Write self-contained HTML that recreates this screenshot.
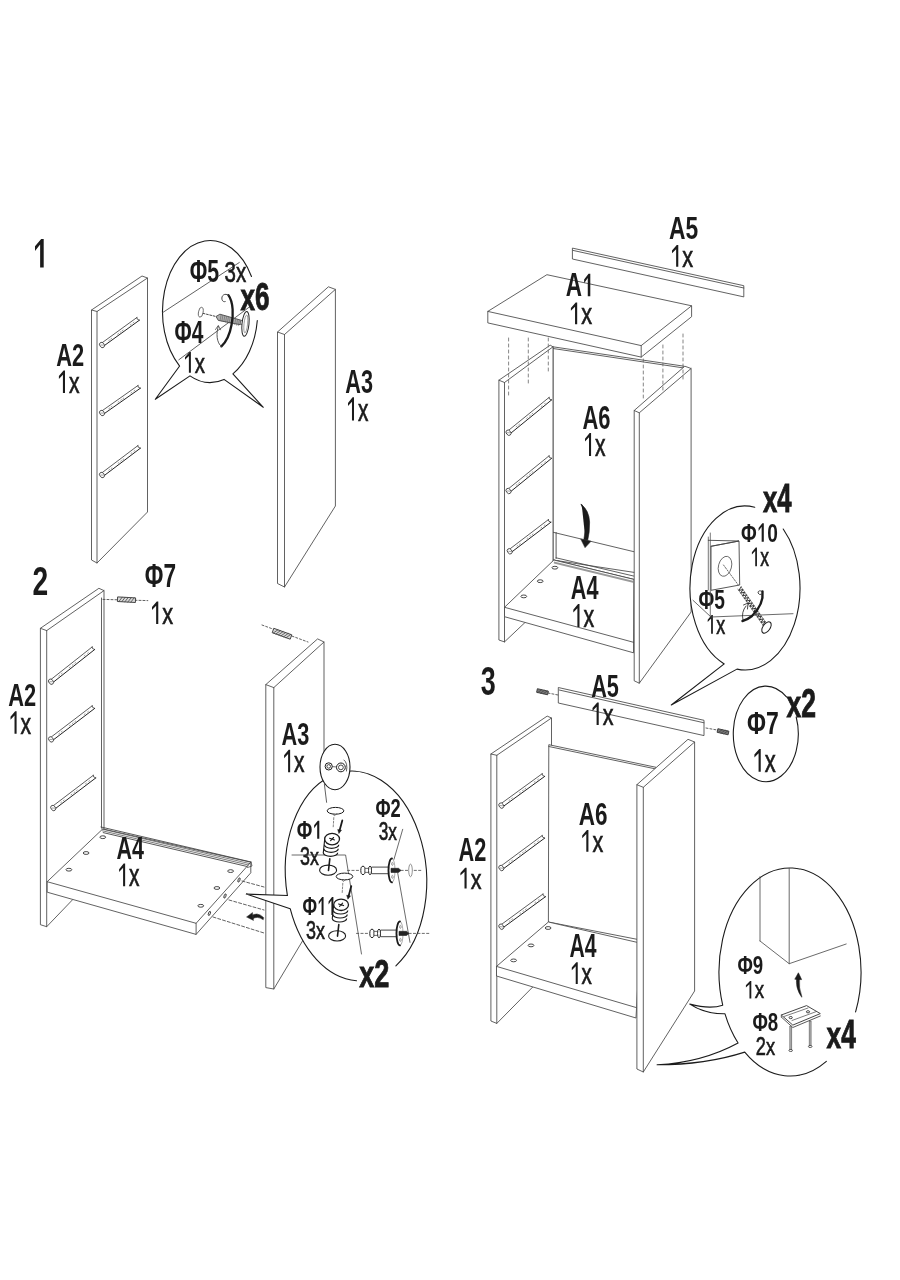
<!DOCTYPE html>
<html><head><meta charset="utf-8"><style>html,body{margin:0;padding:0;background:#fff;width:900px;height:1280px;overflow:hidden}svg{display:block} .t{opacity:0.995}text{font-family:"Liberation Sans",sans-serif}</style></head>
<body><svg width="900" height="1280" viewBox="0 0 900 1280">
<rect width="900" height="1280" fill="#fff"/>
<g class="t"><path d="M35.00,246.22 L41.20,239.10 L43.70,239.10 L43.70,267.60 L40.13,267.60 L40.13,244.51 L35.00,250.93 Z" fill="#1a1a1a"/>
<polygon points="91.5,310.0 142.0,276.0 147.5,278.0 147.5,512.0 97.0,563.0 91.5,560.0" fill="#fff" stroke="#454545" stroke-width="0.85" stroke-linejoin="round"/>
<polyline points="97.0,563.0 97.0,311.5 147.5,278.0" fill="none" stroke="#454545" stroke-width="0.85" stroke-linejoin="round" stroke-linecap="round"/>
<polyline points="91.5,310.0 97.0,311.5" fill="none" stroke="#454545" stroke-width="0.85" stroke-linejoin="round" stroke-linecap="round"/>
<polygon points="102.2,342.7 136.9,317.5 139.4,320.2 104.3,345.6" fill="#fff" stroke="none" stroke-width="0" stroke-linejoin="round"/>
<polyline points="102.2,342.7 136.9,317.5" fill="none" stroke="#333" stroke-width="0.8" stroke-linejoin="round" stroke-linecap="round"/>
<polyline points="104.3,345.6 139.4,320.2" fill="none" stroke="#222" stroke-width="1.0" stroke-linejoin="round" stroke-linecap="round"/>
<polyline points="136.9,317.5 137.2,319.1 139.4,320.2" fill="none" stroke="#333" stroke-width="0.8" stroke-linejoin="round" stroke-linecap="round"/>
<ellipse cx="102.00" cy="345.00" rx="2.2" ry="2.9" transform="rotate(-35.8 102.00 345.00)" fill="#fff" stroke="#333" stroke-width="0.8"/>
<polyline points="101.0,345.0 103.3,345.2" fill="none" stroke="#666" stroke-width="0.6" stroke-linejoin="round" stroke-linecap="round"/>
<polyline points="108.7,340.6 109.5,340.0" fill="none" stroke="#777" stroke-width="0.7" stroke-linejoin="round" stroke-linecap="round"/>
<polyline points="110.8,339.0 111.6,338.4" fill="none" stroke="#777" stroke-width="0.7" stroke-linejoin="round" stroke-linecap="round"/>
<polyline points="117.7,334.1 118.5,333.5" fill="none" stroke="#777" stroke-width="0.7" stroke-linejoin="round" stroke-linecap="round"/>
<polyline points="120.2,332.2 121.0,331.7" fill="none" stroke="#777" stroke-width="0.7" stroke-linejoin="round" stroke-linecap="round"/>
<polyline points="122.3,330.7 123.1,330.1" fill="none" stroke="#777" stroke-width="0.7" stroke-linejoin="round" stroke-linecap="round"/>
<polyline points="130.3,325.0 131.1,324.4" fill="none" stroke="#777" stroke-width="0.7" stroke-linejoin="round" stroke-linecap="round"/>
<polyline points="133.1,322.9 133.9,322.3" fill="none" stroke="#777" stroke-width="0.7" stroke-linejoin="round" stroke-linecap="round"/>
<polygon points="102.2,410.7 138.0,385.5 140.4,388.2 104.3,413.6" fill="#fff" stroke="none" stroke-width="0" stroke-linejoin="round"/>
<polyline points="102.2,410.7 138.0,385.5" fill="none" stroke="#333" stroke-width="0.8" stroke-linejoin="round" stroke-linecap="round"/>
<polyline points="104.3,413.6 140.4,388.2" fill="none" stroke="#222" stroke-width="1.0" stroke-linejoin="round" stroke-linecap="round"/>
<polyline points="138.0,385.5 138.2,387.1 140.4,388.2" fill="none" stroke="#333" stroke-width="0.8" stroke-linejoin="round" stroke-linecap="round"/>
<ellipse cx="102.00" cy="413.00" rx="2.2" ry="2.9" transform="rotate(-35.1 102.00 413.00)" fill="#fff" stroke="#333" stroke-width="0.8"/>
<polyline points="101.0,413.0 103.3,413.2" fill="none" stroke="#666" stroke-width="0.6" stroke-linejoin="round" stroke-linecap="round"/>
<polyline points="108.8,408.6 109.7,408.0" fill="none" stroke="#777" stroke-width="0.7" stroke-linejoin="round" stroke-linecap="round"/>
<polyline points="111.1,407.0 111.9,406.4" fill="none" stroke="#777" stroke-width="0.7" stroke-linejoin="round" stroke-linecap="round"/>
<polyline points="118.1,402.1 118.9,401.5" fill="none" stroke="#777" stroke-width="0.7" stroke-linejoin="round" stroke-linecap="round"/>
<polyline points="120.7,400.2 121.5,399.7" fill="none" stroke="#777" stroke-width="0.7" stroke-linejoin="round" stroke-linecap="round"/>
<polyline points="122.9,398.7 123.7,398.1" fill="none" stroke="#777" stroke-width="0.7" stroke-linejoin="round" stroke-linecap="round"/>
<polyline points="131.0,393.0 131.9,392.4" fill="none" stroke="#777" stroke-width="0.7" stroke-linejoin="round" stroke-linecap="round"/>
<polyline points="134.0,390.9 134.8,390.3" fill="none" stroke="#777" stroke-width="0.7" stroke-linejoin="round" stroke-linecap="round"/>
<polygon points="102.1,472.7 137.9,445.6 140.4,448.2 104.3,475.5" fill="#fff" stroke="none" stroke-width="0" stroke-linejoin="round"/>
<polyline points="102.1,472.7 137.9,445.6" fill="none" stroke="#333" stroke-width="0.8" stroke-linejoin="round" stroke-linecap="round"/>
<polyline points="104.3,475.5 140.4,448.2" fill="none" stroke="#222" stroke-width="1.0" stroke-linejoin="round" stroke-linecap="round"/>
<polyline points="137.9,445.6 138.2,447.1 140.4,448.2" fill="none" stroke="#333" stroke-width="0.8" stroke-linejoin="round" stroke-linecap="round"/>
<ellipse cx="102.00" cy="475.00" rx="2.2" ry="2.9" transform="rotate(-37.1 102.00 475.00)" fill="#fff" stroke="#333" stroke-width="0.8"/>
<polyline points="101.0,475.0 103.3,475.2" fill="none" stroke="#666" stroke-width="0.6" stroke-linejoin="round" stroke-linecap="round"/>
<polyline points="108.8,470.2 109.6,469.6" fill="none" stroke="#777" stroke-width="0.7" stroke-linejoin="round" stroke-linecap="round"/>
<polyline points="111.1,468.5 111.9,467.9" fill="none" stroke="#777" stroke-width="0.7" stroke-linejoin="round" stroke-linecap="round"/>
<polyline points="118.1,463.2 118.9,462.6" fill="none" stroke="#777" stroke-width="0.7" stroke-linejoin="round" stroke-linecap="round"/>
<polyline points="120.7,461.2 121.5,460.6" fill="none" stroke="#777" stroke-width="0.7" stroke-linejoin="round" stroke-linecap="round"/>
<polyline points="122.9,459.6 123.7,459.0" fill="none" stroke="#777" stroke-width="0.7" stroke-linejoin="round" stroke-linecap="round"/>
<polyline points="131.0,453.4 131.8,452.8" fill="none" stroke="#777" stroke-width="0.7" stroke-linejoin="round" stroke-linecap="round"/>
<polyline points="134.0,451.2 134.8,450.6" fill="none" stroke="#777" stroke-width="0.7" stroke-linejoin="round" stroke-linecap="round"/>
<text transform="translate(56.26,365.50) scale(0.678,1)" font-size="32.22" font-weight="bold" fill="#1a1a1a">A</text>
<text transform="translate(72.03,365.50) scale(0.678,1)" font-size="32.22" font-weight="bold" fill="#1a1a1a">2</text>
<path d="M58.90,376.12 L63.55,370.50 L65.00,370.50 L65.00,393.00 L62.92,393.00 L62.92,374.77 L58.90,378.94 Z" fill="#1a1a1a"/>
<text transform="translate(68.96,393.00) scale(0.646,0.92)" font-size="32.70" font-weight="normal" fill="#1a1a1a" stroke="#1a1a1a" stroke-width="0.70">x</text>
<polygon points="277.5,332.0 328.4,286.8 335.4,289.4 335.4,506.0 284.5,587.0 277.5,583.5" fill="#fff" stroke="#454545" stroke-width="0.85" stroke-linejoin="round"/>
<polyline points="284.5,587.0 284.5,334.5 335.4,289.4" fill="none" stroke="#454545" stroke-width="0.85" stroke-linejoin="round" stroke-linecap="round"/>
<polyline points="277.5,332.0 284.5,334.5" fill="none" stroke="#454545" stroke-width="0.85" stroke-linejoin="round" stroke-linecap="round"/>
<text transform="translate(345.36,392.54) scale(0.669,1)" font-size="32.42" font-weight="bold" fill="#1a1a1a">A</text>
<text transform="translate(361.02,392.54) scale(0.669,1)" font-size="32.42" font-weight="bold" fill="#1a1a1a">3</text>
<path d="M348.00,403.10 L352.58,397.30 L354.01,397.30 L354.01,420.50 L351.97,420.50 L351.97,401.71 L348.00,406.00 Z" fill="#1a1a1a"/>
<text transform="translate(357.91,420.50) scale(0.617,0.92)" font-size="33.72" font-weight="normal" fill="#1a1a1a" stroke="#1a1a1a" stroke-width="0.73">x</text>
<path d="M257.31,320.52 A47.6,71 0 0 1 232.89,373.84 L263.30,407.30 L224.02,379.40 A47.6,71 0 0 1 189.98,375.85 L155.30,399.30 L179.63,366.05 A47.6,71 0 0 1 164.50,291.14 A47.6,71 0 0 1 204.74,240.95 A47.6,71 0 0 1 251.49,276.43" fill="#fff" stroke="#1a1a1a" stroke-width="1.1" stroke-linejoin="round" stroke-linecap="round"/>
<polyline points="162.6,312.6 239.3,262.5" fill="none" stroke="#454545" stroke-width="0.85" stroke-linejoin="round" stroke-linecap="round"/>
<polyline points="178.8,359.8 249.5,306.9" fill="none" stroke="#454545" stroke-width="0.85" stroke-linejoin="round" stroke-linecap="round"/>
<text transform="translate(189.84,281.69) scale(0.681,1)" font-size="31.31" font-weight="bold" fill="#1a1a1a">Φ</text>
<text transform="translate(207.34,281.69) scale(0.681,1)" font-size="31.31" font-weight="bold" fill="#1a1a1a">5</text>
<text transform="translate(224.52,281.70) scale(0.677,1)" font-size="30.37" font-weight="normal" fill="#1a1a1a" stroke="#1a1a1a" stroke-width="0.66">3</text>
<text transform="translate(235.95,281.70) scale(0.677,0.92)" font-size="30.37" font-weight="normal" fill="#1a1a1a" stroke="#1a1a1a" stroke-width="0.66">x</text>
<text transform="translate(240.42,309.61) scale(0.660,0.92)" font-size="39.55" font-weight="bold" fill="#1a1a1a" stroke="#1a1a1a" stroke-width="0.91">x</text>
<text transform="translate(254.93,309.61) scale(0.660,1)" font-size="39.55" font-weight="bold" fill="#1a1a1a" stroke="#1a1a1a" stroke-width="0.91">6</text>
<text transform="translate(174.56,343.20) scale(0.660,1)" font-size="31.75" font-weight="bold" fill="#1a1a1a">Φ</text>
<text transform="translate(191.76,343.20) scale(0.660,1)" font-size="31.75" font-weight="bold" fill="#1a1a1a">4</text>
<path d="M185.00,357.18 L189.49,352.00 L190.89,352.00 L190.89,372.70 L188.89,372.70 L188.89,355.93 L185.00,359.76 Z" fill="#1a1a1a"/>
<text transform="translate(194.72,372.70) scale(0.678,0.92)" font-size="30.09" font-weight="normal" fill="#1a1a1a" stroke="#1a1a1a" stroke-width="0.66">x</text>
<ellipse cx="200.8" cy="312.2" rx="2.3" ry="5" transform="rotate(10 200.8 312.2)" fill="#fff" stroke="#555" stroke-width="0.8"/>
<polyline points="203.2,313.4 216.0,316.5" fill="none" stroke="#333" stroke-width="0.9" stroke-dasharray="1.8,1.6" stroke-linejoin="round" stroke-linecap="round"/>
<polygon points="216.0,316.5 219.9,314.2 241.7,320.4 240.1,324.7 218.3,320.4" fill="#b0b0b0" stroke="#333" stroke-width="0.8" stroke-linejoin="round"/>
<polyline points="221.1,314.9 220.1,320.5" fill="none" stroke="#555" stroke-width="0.5" stroke-linejoin="round" stroke-linecap="round"/>
<polyline points="222.9,315.4 221.9,321.0" fill="none" stroke="#555" stroke-width="0.5" stroke-linejoin="round" stroke-linecap="round"/>
<polyline points="224.8,315.9 223.8,321.6" fill="none" stroke="#555" stroke-width="0.5" stroke-linejoin="round" stroke-linecap="round"/>
<polyline points="226.6,316.5 225.6,322.1" fill="none" stroke="#555" stroke-width="0.5" stroke-linejoin="round" stroke-linecap="round"/>
<polyline points="228.4,317.0 227.4,322.6" fill="none" stroke="#555" stroke-width="0.5" stroke-linejoin="round" stroke-linecap="round"/>
<polyline points="230.2,317.5 229.2,323.1" fill="none" stroke="#555" stroke-width="0.5" stroke-linejoin="round" stroke-linecap="round"/>
<polyline points="232.0,318.0 231.0,323.6" fill="none" stroke="#555" stroke-width="0.5" stroke-linejoin="round" stroke-linecap="round"/>
<polyline points="233.8,318.5 232.8,324.1" fill="none" stroke="#555" stroke-width="0.5" stroke-linejoin="round" stroke-linecap="round"/>
<polyline points="235.7,319.0 234.7,324.6" fill="none" stroke="#555" stroke-width="0.5" stroke-linejoin="round" stroke-linecap="round"/>
<polyline points="237.5,319.6 236.5,325.2" fill="none" stroke="#555" stroke-width="0.5" stroke-linejoin="round" stroke-linecap="round"/>
<polyline points="239.3,320.1 238.3,325.7" fill="none" stroke="#555" stroke-width="0.5" stroke-linejoin="round" stroke-linecap="round"/>
<polygon points="240.6,320.6 243.0,321.0 243.0,324.4 240.2,324.3" fill="#fff" stroke="#444" stroke-width="0.7" stroke-linejoin="round"/>
<ellipse cx="245.5" cy="323.9" rx="3.5" ry="12.4" transform="rotate(6 245.5 323.9)" fill="#fff" stroke="#2a2a2a" stroke-width="1"/>
<ellipse cx="245.8" cy="323.9" rx="1.8" ry="9" transform="rotate(6 245.5 323.9)" fill="none" stroke="#666" stroke-width="0.6"/>
<path d="M228.4,295.1 C233.5,302 233.5,316 231.5,325 C229.5,336 225,343 221.4,346.4" fill="none" stroke="#1a1a1a" stroke-width="2.3" stroke-linejoin="round" stroke-linecap="round"/>
<path d="M228.6,295.4 C225,292.5 221,295.5 222,299.5 C222.5,301.5 224,302 225.2,301.6" fill="none" stroke="#333" stroke-width="0.9" stroke-linejoin="round" stroke-linecap="round"/>
<path d="M221.4,346.4 C216.5,343 216,333 218.3,326.2" fill="none" stroke="#444" stroke-width="0.9" stroke-linejoin="round" stroke-linecap="round"/>
<path d="M215.5,329.5 L218.3,325.5 L220.5,329.8" fill="none" stroke="#444" stroke-width="0.8" stroke-linejoin="round" stroke-linecap="round"/>
<text transform="translate(32.52,595.20) scale(0.682,1)" font-size="41.39" font-weight="bold" fill="#1a1a1a">2</text>
<polygon points="40.4,628.3 98.9,588.3 104.0,590.6 104.0,867.0 46.7,926.7 40.4,924.7" fill="#fff" stroke="#454545" stroke-width="0.85" stroke-linejoin="round"/>
<polyline points="46.7,926.7 46.7,630.6 104.0,590.6" fill="none" stroke="#454545" stroke-width="0.85" stroke-linejoin="round" stroke-linecap="round"/>
<polyline points="40.4,628.3 46.7,630.6" fill="none" stroke="#454545" stroke-width="0.85" stroke-linejoin="round" stroke-linecap="round"/>
<polyline points="101.5,598.0 101.5,828.0" fill="none" stroke="#454545" stroke-width="0.85" stroke-linejoin="round" stroke-linecap="round"/>
<polygon points="51.1,679.4 92.2,646.9 94.7,649.5 53.3,682.2" fill="#fff" stroke="none" stroke-width="0" stroke-linejoin="round"/>
<polyline points="51.1,679.4 92.2,646.9" fill="none" stroke="#333" stroke-width="0.8" stroke-linejoin="round" stroke-linecap="round"/>
<polyline points="53.3,682.2 94.7,649.5" fill="none" stroke="#222" stroke-width="1.0" stroke-linejoin="round" stroke-linecap="round"/>
<polyline points="92.2,646.9 92.5,648.5 94.7,649.5" fill="none" stroke="#333" stroke-width="0.8" stroke-linejoin="round" stroke-linecap="round"/>
<ellipse cx="51.00" cy="681.70" rx="2.2" ry="2.9" transform="rotate(-38.3 51.00 681.70)" fill="#fff" stroke="#333" stroke-width="0.8"/>
<polyline points="50.0,681.7 52.3,681.8" fill="none" stroke="#666" stroke-width="0.6" stroke-linejoin="round" stroke-linecap="round"/>
<polyline points="58.8,675.9 59.6,675.3" fill="none" stroke="#777" stroke-width="0.7" stroke-linejoin="round" stroke-linecap="round"/>
<polyline points="61.3,673.9 62.1,673.3" fill="none" stroke="#777" stroke-width="0.7" stroke-linejoin="round" stroke-linecap="round"/>
<polyline points="69.4,667.6 70.2,667.0" fill="none" stroke="#777" stroke-width="0.7" stroke-linejoin="round" stroke-linecap="round"/>
<polyline points="72.3,665.2 73.1,664.6" fill="none" stroke="#777" stroke-width="0.7" stroke-linejoin="round" stroke-linecap="round"/>
<polyline points="74.9,663.2 75.7,662.6" fill="none" stroke="#777" stroke-width="0.7" stroke-linejoin="round" stroke-linecap="round"/>
<polyline points="84.2,655.9 85.0,655.3" fill="none" stroke="#777" stroke-width="0.7" stroke-linejoin="round" stroke-linecap="round"/>
<polyline points="87.6,653.2 88.3,652.6" fill="none" stroke="#777" stroke-width="0.7" stroke-linejoin="round" stroke-linecap="round"/>
<polygon points="51.1,737.1 92.2,705.8 94.7,708.4 53.3,739.9" fill="#fff" stroke="none" stroke-width="0" stroke-linejoin="round"/>
<polyline points="51.1,737.1 92.2,705.8" fill="none" stroke="#333" stroke-width="0.8" stroke-linejoin="round" stroke-linecap="round"/>
<polyline points="53.3,739.9 94.7,708.4" fill="none" stroke="#222" stroke-width="1.0" stroke-linejoin="round" stroke-linecap="round"/>
<polyline points="92.2,705.8 92.5,707.3 94.7,708.4" fill="none" stroke="#333" stroke-width="0.8" stroke-linejoin="round" stroke-linecap="round"/>
<ellipse cx="51.00" cy="739.40" rx="2.2" ry="2.9" transform="rotate(-37.3 51.00 739.40)" fill="#fff" stroke="#333" stroke-width="0.8"/>
<polyline points="50.0,739.4 52.3,739.6" fill="none" stroke="#666" stroke-width="0.6" stroke-linejoin="round" stroke-linecap="round"/>
<polyline points="58.8,733.8 59.6,733.2" fill="none" stroke="#777" stroke-width="0.7" stroke-linejoin="round" stroke-linecap="round"/>
<polyline points="61.3,731.9 62.1,731.3" fill="none" stroke="#777" stroke-width="0.7" stroke-linejoin="round" stroke-linecap="round"/>
<polyline points="69.4,725.8 70.2,725.2" fill="none" stroke="#777" stroke-width="0.7" stroke-linejoin="round" stroke-linecap="round"/>
<polyline points="72.3,723.5 73.1,722.9" fill="none" stroke="#777" stroke-width="0.7" stroke-linejoin="round" stroke-linecap="round"/>
<polyline points="74.9,721.6 75.7,721.0" fill="none" stroke="#777" stroke-width="0.7" stroke-linejoin="round" stroke-linecap="round"/>
<polyline points="84.2,714.5 85.0,713.9" fill="none" stroke="#777" stroke-width="0.7" stroke-linejoin="round" stroke-linecap="round"/>
<polyline points="87.6,711.9 88.4,711.3" fill="none" stroke="#777" stroke-width="0.7" stroke-linejoin="round" stroke-linecap="round"/>
<polygon points="53.3,805.7 93.3,775.3 95.8,777.9 55.5,808.5" fill="#fff" stroke="none" stroke-width="0" stroke-linejoin="round"/>
<polyline points="53.3,805.7 93.3,775.3" fill="none" stroke="#333" stroke-width="0.8" stroke-linejoin="round" stroke-linecap="round"/>
<polyline points="55.5,808.5 95.8,777.9" fill="none" stroke="#222" stroke-width="1.0" stroke-linejoin="round" stroke-linecap="round"/>
<polyline points="93.3,775.3 93.6,776.8 95.8,777.9" fill="none" stroke="#333" stroke-width="0.8" stroke-linejoin="round" stroke-linecap="round"/>
<ellipse cx="53.20" cy="808.00" rx="2.2" ry="2.9" transform="rotate(-37.2 53.20 808.00)" fill="#fff" stroke="#333" stroke-width="0.8"/>
<polyline points="52.2,808.0 54.5,808.2" fill="none" stroke="#666" stroke-width="0.6" stroke-linejoin="round" stroke-linecap="round"/>
<polyline points="60.8,802.6 61.6,802.0" fill="none" stroke="#777" stroke-width="0.7" stroke-linejoin="round" stroke-linecap="round"/>
<polyline points="63.3,800.7 64.1,800.1" fill="none" stroke="#777" stroke-width="0.7" stroke-linejoin="round" stroke-linecap="round"/>
<polyline points="71.1,794.8 71.9,794.2" fill="none" stroke="#777" stroke-width="0.7" stroke-linejoin="round" stroke-linecap="round"/>
<polyline points="74.0,792.6 74.8,792.0" fill="none" stroke="#777" stroke-width="0.7" stroke-linejoin="round" stroke-linecap="round"/>
<polyline points="76.5,790.7 77.2,790.1" fill="none" stroke="#777" stroke-width="0.7" stroke-linejoin="round" stroke-linecap="round"/>
<polyline points="85.5,783.8 86.3,783.2" fill="none" stroke="#777" stroke-width="0.7" stroke-linejoin="round" stroke-linecap="round"/>
<polyline points="88.8,781.3 89.6,780.7" fill="none" stroke="#777" stroke-width="0.7" stroke-linejoin="round" stroke-linecap="round"/>
<text transform="translate(8.16,706.30) scale(0.678,1)" font-size="32.22" font-weight="bold" fill="#1a1a1a">A</text>
<text transform="translate(23.93,706.30) scale(0.678,1)" font-size="32.22" font-weight="bold" fill="#1a1a1a">2</text>
<path d="M10.50,716.83 L15.15,711.20 L16.60,711.20 L16.60,733.70 L14.52,733.70 L14.52,715.48 L10.50,719.64 Z" fill="#1a1a1a"/>
<text transform="translate(20.56,733.70) scale(0.646,0.92)" font-size="32.70" font-weight="normal" fill="#1a1a1a" stroke="#1a1a1a" stroke-width="0.70">x</text>
<text transform="translate(144.80,587.00) scale(0.698,1)" font-size="32.47" font-weight="bold" fill="#1a1a1a">Φ</text>
<text transform="translate(163.40,587.00) scale(0.698,1)" font-size="32.47" font-weight="bold" fill="#1a1a1a">7</text>
<path d="M152.00,607.12 L156.78,601.50 L158.28,601.50 L158.28,624.00 L156.14,624.00 L156.14,605.77 L152.00,609.94 Z" fill="#1a1a1a"/>
<text transform="translate(162.36,624.00) scale(0.665,0.92)" font-size="32.70" font-weight="normal" fill="#1a1a1a" stroke="#1a1a1a" stroke-width="0.68">x</text>
<polyline points="103.0,599.4 147.8,600.6" fill="none" stroke="#454545" stroke-width="0.85" stroke-dasharray="2,2" stroke-linejoin="round" stroke-linecap="round"/>
<polygon points="117.4,601.5 135.4,602.5 135.6,597.9 117.6,596.9" fill="#d8d8d8" stroke="#333" stroke-width="0.9" stroke-linejoin="round"/>
<polyline points="118.8,601.6 122.2,597.2" fill="none" stroke="#444" stroke-width="0.8" stroke-linejoin="round" stroke-linecap="round"/>
<polyline points="121.8,601.7 125.2,597.3" fill="none" stroke="#444" stroke-width="0.8" stroke-linejoin="round" stroke-linecap="round"/>
<polyline points="124.8,601.9 128.2,597.5" fill="none" stroke="#444" stroke-width="0.8" stroke-linejoin="round" stroke-linecap="round"/>
<polyline points="127.8,602.1 131.2,597.7" fill="none" stroke="#444" stroke-width="0.8" stroke-linejoin="round" stroke-linecap="round"/>
<polyline points="130.8,602.2 134.2,597.8" fill="none" stroke="#444" stroke-width="0.8" stroke-linejoin="round" stroke-linecap="round"/>
<polygon points="102.8,828.9 47.2,881.7 47.2,892.2 196.1,934.4 250.8,872.8 250.8,862.2" fill="#fff" stroke="#454545" stroke-width="0.85" stroke-linejoin="round"/>
<polyline points="47.2,881.7 196.1,923.3 250.8,862.2" fill="none" stroke="#454545" stroke-width="0.85" stroke-linejoin="round" stroke-linecap="round"/>
<polyline points="196.1,923.3 196.1,934.4" fill="none" stroke="#454545" stroke-width="0.85" stroke-linejoin="round" stroke-linecap="round"/>
<polyline points="101.0,827.0 251.0,862.0" fill="none" stroke="#454545" stroke-width="0.9" stroke-linejoin="round" stroke-linecap="round"/>
<polyline points="101.8,829.0 249.6,863.6" fill="none" stroke="#454545" stroke-width="0.7" stroke-linejoin="round" stroke-linecap="round"/>
<polyline points="102.5,830.8 248.3,865.0" fill="none" stroke="#454545" stroke-width="0.7" stroke-linejoin="round" stroke-linecap="round"/>
<polyline points="103.2,832.6 247.1,866.5" fill="none" stroke="#454545" stroke-width="0.9" stroke-linejoin="round" stroke-linecap="round"/>
<polyline points="251.0,862.0 252.0,866.0 247.5,867.5" fill="none" stroke="#454545" stroke-width="0.8" stroke-linejoin="round" stroke-linecap="round"/>
<ellipse cx="239" cy="880" rx="0.9" ry="2.2" transform="rotate(20 239 880)" fill="#fff" stroke="#1a1a1a" stroke-width="0.8"/>
<ellipse cx="225" cy="896" rx="0.9" ry="2.2" transform="rotate(20 225 896)" fill="#fff" stroke="#1a1a1a" stroke-width="0.8"/>
<ellipse cx="209.4" cy="913.4" rx="0.9" ry="2.2" transform="rotate(20 209.4 913.4)" fill="#fff" stroke="#1a1a1a" stroke-width="0.8"/>
<path d="M263.5,917.5 Q257,911 250.5,916.5 L252.5,919 Q257,915.5 263,919.5 Z" fill="#1a1a1a" stroke="#1a1a1a" stroke-width="0.6" stroke-linejoin="round" stroke-linecap="round"/>
<polygon points="246.5,917.0 252.5,912.5 253.5,920.5" fill="#1a1a1a" stroke="#454545" stroke-width="0.5" stroke-linejoin="round"/>
<ellipse cx="102.8" cy="837.2" rx="2.9" ry="1.4" fill="#fff" stroke="#333" stroke-width="0.9"/>
<ellipse cx="86.1" cy="853" rx="2.9" ry="1.4" fill="#fff" stroke="#333" stroke-width="0.9"/>
<ellipse cx="68.9" cy="869.7" rx="2.9" ry="1.4" fill="#fff" stroke="#333" stroke-width="0.9"/>
<ellipse cx="230.6" cy="871.1" rx="2.9" ry="1.4" fill="#fff" stroke="#333" stroke-width="0.9"/>
<ellipse cx="216.9" cy="888" rx="2.9" ry="1.4" fill="#fff" stroke="#333" stroke-width="0.9"/>
<ellipse cx="200.8" cy="905.8" rx="2.9" ry="1.4" fill="#fff" stroke="#333" stroke-width="0.9"/>
<text transform="translate(116.47,858.80) scale(0.678,1)" font-size="31.69" font-weight="bold" fill="#1a1a1a">A</text>
<text transform="translate(131.97,858.80) scale(0.678,1)" font-size="31.69" font-weight="bold" fill="#1a1a1a">4</text>
<path d="M119.10,869.20 L123.70,863.50 L125.14,863.50 L125.14,886.30 L123.09,886.30 L123.09,867.83 L119.10,872.05 Z" fill="#1a1a1a"/>
<text transform="translate(129.06,886.30) scale(0.631,0.92)" font-size="33.14" font-weight="normal" fill="#1a1a1a" stroke="#1a1a1a" stroke-width="0.71">x</text>
<polyline points="242.0,881.0 264.0,887.0" fill="none" stroke="#454545" stroke-width="0.85" stroke-dasharray="3,2" stroke-linejoin="round" stroke-linecap="round"/>
<polyline points="229.0,900.0 264.0,910.0" fill="none" stroke="#454545" stroke-width="0.85" stroke-dasharray="3,2" stroke-linejoin="round" stroke-linecap="round"/>
<polyline points="213.0,917.0 264.0,933.0" fill="none" stroke="#454545" stroke-width="0.85" stroke-dasharray="3,2" stroke-linejoin="round" stroke-linecap="round"/>
<polygon points="265.8,684.6 317.6,638.9 324.0,642.0 324.0,905.0 273.8,989.0 265.8,987.6" fill="#fff" stroke="#454545" stroke-width="0.85" stroke-linejoin="round"/>
<polyline points="273.8,989.0 273.8,687.6 324.0,642.0" fill="none" stroke="#454545" stroke-width="0.85" stroke-linejoin="round" stroke-linecap="round"/>
<polyline points="265.8,684.6 273.8,687.6" fill="none" stroke="#454545" stroke-width="0.85" stroke-linejoin="round" stroke-linecap="round"/>
<text transform="translate(281.46,744.64) scale(0.680,1)" font-size="32.00" font-weight="bold" fill="#1a1a1a">A</text>
<text transform="translate(297.18,744.64) scale(0.680,1)" font-size="32.00" font-weight="bold" fill="#1a1a1a">3</text>
<path d="M284.10,755.33 L288.70,749.70 L290.14,749.70 L290.14,772.20 L288.09,772.20 L288.09,753.98 L284.10,758.14 Z" fill="#1a1a1a"/>
<text transform="translate(294.06,772.20) scale(0.640,0.92)" font-size="32.70" font-weight="normal" fill="#1a1a1a" stroke="#1a1a1a" stroke-width="0.70">x</text>
<polyline points="262.0,625.0 308.0,642.0" fill="none" stroke="#454545" stroke-width="0.85" stroke-dasharray="2,2" stroke-linejoin="round" stroke-linecap="round"/>
<polygon points="272.2,632.7 290.2,639.2 291.8,634.8 273.8,628.3" fill="#d8d8d8" stroke="#333" stroke-width="0.9" stroke-linejoin="round"/>
<polyline points="273.3,633.0 277.9,629.8" fill="none" stroke="#444" stroke-width="0.8" stroke-linejoin="round" stroke-linecap="round"/>
<polyline points="275.9,634.0 280.4,630.7" fill="none" stroke="#444" stroke-width="0.8" stroke-linejoin="round" stroke-linecap="round"/>
<polyline points="278.4,634.9 283.0,631.7" fill="none" stroke="#444" stroke-width="0.8" stroke-linejoin="round" stroke-linecap="round"/>
<polyline points="281.0,635.8 285.6,632.6" fill="none" stroke="#444" stroke-width="0.8" stroke-linejoin="round" stroke-linecap="round"/>
<polyline points="283.6,636.8 288.1,633.5" fill="none" stroke="#444" stroke-width="0.8" stroke-linejoin="round" stroke-linecap="round"/>
<polyline points="286.1,637.7 290.7,634.5" fill="none" stroke="#444" stroke-width="0.8" stroke-linejoin="round" stroke-linecap="round"/>
<path d="M287.38,895.45 A70.5,105 -4 0 1 330.95,775.99 A70.5,105 -4 0 1 418.69,832.87 A70.5,105 -4 0 1 395.89,965.80 L395.89,965.80 A70.5,105 -4 0 1 356.55,980.73 L356.55,980.73 A70.5,105 -4 0 1 290.19,908.73 L246.30,894.10 Z" fill="#fff" stroke="none" stroke-width="0" stroke-linejoin="round" stroke-linecap="round"/>
<path d="M287.38,895.45 A70.5,105 -4 0 1 330.95,775.99 A70.5,105 -4 0 1 418.69,832.87 A70.5,105 -4 0 1 395.89,965.80" fill="none" stroke="#1a1a1a" stroke-width="1.1" stroke-linejoin="round" stroke-linecap="round"/>
<path d="M356.55,980.73 A70.5,105 -4 0 1 290.19,908.73 L246.30,894.10 L287.38,895.45 A70.5,105 -4 0 0 287.38,895.45" fill="none" stroke="#1a1a1a" stroke-width="1.1" stroke-linejoin="round" stroke-linecap="round"/>
<ellipse cx="335" cy="767" rx="15" ry="22.7" fill="#fff" stroke="#1a1a1a" stroke-width="1.1"/>
<polyline points="324.4,784.3 326.6,802.3" fill="none" stroke="#454545" stroke-width="0.85" stroke-linejoin="round" stroke-linecap="round"/>
<circle cx="328.7" cy="766.4" r="3.6" fill="#fff" stroke="#1a1a1a" stroke-width="1"/><circle cx="328.7" cy="766.4" r="1.8" fill="none" stroke="#1a1a1a" stroke-width="0.8"/>
<circle cx="340.9" cy="767.4" r="4.4" fill="#fff" stroke="#1a1a1a" stroke-width="1"/><circle cx="340.9" cy="767.4" r="2.4" fill="none" stroke="#1a1a1a" stroke-width="0.8"/>
<polyline points="332.3,766.6 336.5,767.0" fill="none" stroke="#454545" stroke-width="0.8" stroke-linejoin="round" stroke-linecap="round"/>
<path d="M344,760 Q348,763 346.5,771" fill="none" stroke="#1a1a1a" stroke-width="0.7" stroke-linejoin="round" stroke-linecap="round"/>
<text transform="translate(359.21,987.20) scale(0.689,0.92)" font-size="39.38" font-weight="bold" fill="#1a1a1a" stroke="#1a1a1a" stroke-width="0.87">x</text>
<text transform="translate(374.30,987.20) scale(0.689,1)" font-size="39.38" font-weight="bold" fill="#1a1a1a" stroke="#1a1a1a" stroke-width="0.87">2</text>
<text transform="translate(375.43,817.30) scale(0.690,1)" font-size="26.64" font-weight="bold" fill="#1a1a1a">Φ</text>
<text transform="translate(390.52,817.30) scale(0.690,1)" font-size="26.64" font-weight="bold" fill="#1a1a1a">2</text>
<text transform="translate(378.64,840.45) scale(0.679,1)" font-size="25.42" font-weight="normal" fill="#1a1a1a" stroke="#1a1a1a" stroke-width="0.66">3</text>
<text transform="translate(388.25,840.45) scale(0.679,0.92)" font-size="25.42" font-weight="normal" fill="#1a1a1a" stroke="#1a1a1a" stroke-width="0.66">x</text>
<text transform="translate(296.72,838.70) scale(0.729,1)" font-size="25.98" font-weight="bold" fill="#1a1a1a">Φ</text>
<path d="M314.12,825.30 L317.81,820.83 L319.30,820.83 L319.30,838.70 L317.18,838.70 L317.18,824.22 L314.12,828.24 Z" fill="#1a1a1a"/>
<text transform="translate(300.02,865.05) scale(0.703,1)" font-size="25.42" font-weight="normal" fill="#1a1a1a" stroke="#1a1a1a" stroke-width="0.64">3</text>
<text transform="translate(309.96,865.05) scale(0.703,0.92)" font-size="25.42" font-weight="normal" fill="#1a1a1a" stroke="#1a1a1a" stroke-width="0.64">x</text>
<text transform="translate(302.46,914.90) scale(0.678,1)" font-size="26.12" font-weight="bold" fill="#1a1a1a">Φ</text>
<path d="M318.71,901.42 L322.17,896.93 L323.55,896.93 L323.55,914.90 L321.57,914.90 L321.57,900.34 L318.71,904.39 Z" fill="#1a1a1a"/>
<path d="M328.56,901.42 L332.01,896.93 L333.40,896.93 L333.40,914.90 L331.42,914.90 L331.42,900.34 L328.56,904.39 Z" fill="#1a1a1a"/>
<text transform="translate(305.92,938.55) scale(0.703,1)" font-size="25.56" font-weight="normal" fill="#1a1a1a" stroke="#1a1a1a" stroke-width="0.64">3</text>
<text transform="translate(315.91,938.55) scale(0.703,0.92)" font-size="25.56" font-weight="normal" fill="#1a1a1a" stroke="#1a1a1a" stroke-width="0.64">x</text>
<polyline points="292.0,855.0 345.6,855.0 361.5,954.0" fill="none" stroke="#454545" stroke-width="0.8" stroke-linejoin="round" stroke-linecap="round"/>
<polyline points="402.7,829.3 394.0,859.3" fill="none" stroke="#454545" stroke-width="0.8" stroke-linejoin="round" stroke-linecap="round"/>
<polyline points="397.7,873.0 410.0,942.4" fill="none" stroke="#454545" stroke-width="0.8" stroke-linejoin="round" stroke-linecap="round"/>
<ellipse cx="335.5" cy="810.8000000000001" rx="8.3" ry="3.4" fill="#fff" stroke="#1a1a1a" stroke-width="1"/>
<polyline points="332.7,813.7 334.3,815.8 336.7,813.9" fill="none" stroke="#555" stroke-width="0.7" stroke-linejoin="round" stroke-linecap="round"/>
<polyline points="333.8,817.6 333.2,827.2" fill="none" stroke="#777" stroke-width="0.9" stroke-dasharray="2,1.6" stroke-linejoin="round" stroke-linecap="round"/>
<path d="M342.3,820.4 L339.70000000000005,830.1" fill="none" stroke="#1a1a1a" stroke-width="1.8" stroke-linejoin="round" stroke-linecap="round"/>
<polygon points="337.7,829.5 338.9,833.5 341.5,830.2" fill="#1a1a1a" stroke="#1a1a1a" stroke-width="0.5" stroke-linejoin="round"/>
<polygon points="324.7,839.1 339.5,839.1 338.3,854.1 323.5,854.1" fill="#fff" stroke="none" stroke-width="0" stroke-linejoin="round"/>
<path d="M323.30,852.70 A7.2,3.6 0 0 0 337.70,852.70" fill="#fff" stroke="#1a1a1a" stroke-width="1.2"/>
<path d="M323.90,848.70 A7.2,3.6 0 0 0 338.30,848.70" fill="#fff" stroke="#1a1a1a" stroke-width="1.2"/>
<path d="M324.40,844.70 A7.2,3.6 0 0 0 338.80,844.70" fill="#fff" stroke="#1a1a1a" stroke-width="1.2"/>
<polyline points="324.7,839.1 323.3,852.7" fill="none" stroke="#1a1a1a" stroke-width="1.1" stroke-linejoin="round" stroke-linecap="round"/>
<ellipse cx="332.1" cy="839.1" rx="7.4" ry="5.7" fill="#fff" stroke="#1a1a1a" stroke-width="1.3"/>
<path d="M329.6,838.3000000000001 L334.6,839.9 M330.6,840.7 L333.6,837.5" fill="none" stroke="#1a1a1a" stroke-width="1.1" stroke-linejoin="round" stroke-linecap="round"/>
<ellipse cx="328.1" cy="870.2" rx="8.5" ry="5.1" fill="#fff" stroke="#1a1a1a" stroke-width="1.1"/>
<polyline points="329.8,858.9 328.5,870.5" fill="none" stroke="#1a1a1a" stroke-width="1.6" stroke-linejoin="round" stroke-linecap="round"/>
<ellipse cx="344.5" cy="876.5" rx="8.3" ry="3.4" fill="#fff" stroke="#1a1a1a" stroke-width="1"/>
<polyline points="341.7,879.4 343.3,881.5 345.7,879.6" fill="none" stroke="#555" stroke-width="0.7" stroke-linejoin="round" stroke-linecap="round"/>
<polyline points="342.8,883.3 342.2,892.9" fill="none" stroke="#777" stroke-width="0.9" stroke-dasharray="2,1.6" stroke-linejoin="round" stroke-linecap="round"/>
<path d="M351.3,886.0999999999999 L348.70000000000005,895.8" fill="none" stroke="#1a1a1a" stroke-width="1.8" stroke-linejoin="round" stroke-linecap="round"/>
<polygon points="346.7,895.2 347.9,899.2 350.5,895.9" fill="#1a1a1a" stroke="#1a1a1a" stroke-width="0.5" stroke-linejoin="round"/>
<polygon points="333.7,904.8 348.5,904.8 347.3,919.8 332.5,919.8" fill="#fff" stroke="none" stroke-width="0" stroke-linejoin="round"/>
<path d="M332.30,918.40 A7.2,3.6 0 0 0 346.70,918.40" fill="#fff" stroke="#1a1a1a" stroke-width="1.2"/>
<path d="M332.90,914.40 A7.2,3.6 0 0 0 347.30,914.40" fill="#fff" stroke="#1a1a1a" stroke-width="1.2"/>
<path d="M333.40,910.40 A7.2,3.6 0 0 0 347.80,910.40" fill="#fff" stroke="#1a1a1a" stroke-width="1.2"/>
<polyline points="333.7,904.8 332.3,918.4" fill="none" stroke="#1a1a1a" stroke-width="1.1" stroke-linejoin="round" stroke-linecap="round"/>
<ellipse cx="341.1" cy="904.8" rx="7.4" ry="5.7" fill="#fff" stroke="#1a1a1a" stroke-width="1.3"/>
<path d="M338.6,904.0 L343.6,905.5999999999999 M339.6,906.4 L342.6,903.1999999999999" fill="none" stroke="#1a1a1a" stroke-width="1.1" stroke-linejoin="round" stroke-linecap="round"/>
<ellipse cx="337.1" cy="935.9" rx="8.5" ry="5.1" fill="#fff" stroke="#1a1a1a" stroke-width="1.1"/>
<polyline points="338.8,924.6 337.5,936.2" fill="none" stroke="#1a1a1a" stroke-width="1.6" stroke-linejoin="round" stroke-linecap="round"/>
<polyline points="347.5,870.4 360.5,870.4" fill="none" stroke="#454545" stroke-width="0.8" stroke-dasharray="2.2,2.2" stroke-linejoin="round" stroke-linecap="round"/>
<polyline points="401.0,870.4 422.0,870.4" fill="none" stroke="#454545" stroke-width="0.8" stroke-dasharray="2.2,2.2" stroke-linejoin="round" stroke-linecap="round"/>
<ellipse cx="363.0" cy="870.4" rx="2.2" ry="4.2" fill="#fff" stroke="#1a1a1a" stroke-width="1"/>
<polygon points="365.0,868.4 369.5,868.4 369.5,872.4 365.0,872.4" fill="#fff" stroke="#454545" stroke-width="0.8" stroke-linejoin="round"/>
<ellipse cx="370.0" cy="870.4" rx="1.5" ry="4.4" fill="#fff" stroke="#1a1a1a" stroke-width="0.9"/>
<polygon points="371.5,867.1 389.5,867.1 389.5,873.7 371.5,873.7" fill="#fff" stroke="#333" stroke-width="0.9" stroke-linejoin="round"/>
<ellipse cx="392" cy="870.4" rx="3" ry="12" fill="#fff" stroke="#888" stroke-width="0.7"/>
<path d="M392,858.4 A3.6,12 0 0 0 392,882.4" fill="none" stroke="#1a1a1a" stroke-width="1.7" stroke-linejoin="round" stroke-linecap="round"/>
<ellipse cx="392.4" cy="863.9" rx="0.8" ry="1.5" fill="none" stroke="#666" stroke-width="0.6"/>
<ellipse cx="392.4" cy="876.9" rx="0.8" ry="1.5" fill="none" stroke="#666" stroke-width="0.6"/>
<polygon points="391.0,868.3 398.5,868.3 401.0,870.4 398.5,872.5 391.0,872.5" fill="#222" stroke="#222" stroke-width="0.6" stroke-linejoin="round"/>
<ellipse cx="410.5" cy="870.4" rx="1.8" ry="6.3" fill="#fff" stroke="#777" stroke-width="0.8"/>
<polyline points="356.5,933.4 369.5,933.4" fill="none" stroke="#454545" stroke-width="0.8" stroke-dasharray="2.2,2.2" stroke-linejoin="round" stroke-linecap="round"/>
<polyline points="409.0,933.4 430.0,933.4" fill="none" stroke="#454545" stroke-width="0.8" stroke-dasharray="2.2,2.2" stroke-linejoin="round" stroke-linecap="round"/>
<ellipse cx="372.0" cy="933.4" rx="2.2" ry="4.2" fill="#fff" stroke="#1a1a1a" stroke-width="1"/>
<polygon points="374.0,931.4 378.5,931.4 378.5,935.4 374.0,935.4" fill="#fff" stroke="#454545" stroke-width="0.8" stroke-linejoin="round"/>
<ellipse cx="379.0" cy="933.4" rx="1.5" ry="4.4" fill="#fff" stroke="#1a1a1a" stroke-width="0.9"/>
<polygon points="380.5,930.1 397.5,930.1 397.5,936.7 380.5,936.7" fill="#fff" stroke="#333" stroke-width="0.9" stroke-linejoin="round"/>
<ellipse cx="400" cy="933.4" rx="3" ry="12" fill="#fff" stroke="#888" stroke-width="0.7"/>
<path d="M400,921.4 A3.6,12 0 0 0 400,945.4" fill="none" stroke="#1a1a1a" stroke-width="1.7" stroke-linejoin="round" stroke-linecap="round"/>
<ellipse cx="400.4" cy="926.9" rx="0.8" ry="1.5" fill="none" stroke="#666" stroke-width="0.6"/>
<ellipse cx="400.4" cy="939.9" rx="0.8" ry="1.5" fill="none" stroke="#666" stroke-width="0.6"/>
<polygon points="399.0,931.3 406.5,931.3 409.0,933.4 406.5,935.5 399.0,935.5" fill="#222" stroke="#222" stroke-width="0.6" stroke-linejoin="round"/>
<polygon points="572.4,248.1 743.8,285.7 743.8,296.9 572.4,259.0" fill="#fff" stroke="#454545" stroke-width="0.85" stroke-linejoin="round"/>
<polyline points="573.0,250.4 743.8,288.0" fill="none" stroke="#454545" stroke-width="0.85" stroke-linejoin="round" stroke-linecap="round"/>
<text transform="translate(669.03,239.19) scale(0.708,1)" font-size="32.25" font-weight="bold" fill="#1a1a1a">A</text>
<text transform="translate(685.53,239.19) scale(0.708,1)" font-size="32.25" font-weight="bold" fill="#1a1a1a">5</text>
<path d="M672.00,250.45 L676.78,245.00 L678.28,245.00 L678.28,266.80 L676.14,266.80 L676.14,249.14 L672.00,253.18 Z" fill="#1a1a1a"/>
<text transform="translate(682.36,266.80) scale(0.687,0.92)" font-size="31.69" font-weight="normal" fill="#1a1a1a" stroke="#1a1a1a" stroke-width="0.66">x</text>
<polygon points="546.9,274.7 487.8,311.4 487.8,322.9 641.2,357.1 691.6,316.7 691.6,305.8" fill="#fff" stroke="#454545" stroke-width="0.85" stroke-linejoin="round"/>
<polyline points="487.8,311.4 641.2,345.6 691.6,305.8" fill="none" stroke="#454545" stroke-width="0.85" stroke-linejoin="round" stroke-linecap="round"/>
<polyline points="641.2,345.6 641.2,357.1" fill="none" stroke="#454545" stroke-width="0.85" stroke-linejoin="round" stroke-linecap="round"/>
<text transform="translate(565.64,296.30) scale(0.690,1)" font-size="32.70" font-weight="bold" fill="#1a1a1a">A</text>
<path d="M584.13,279.43 L588.53,273.80 L590.30,273.80 L590.30,296.30 L587.77,296.30 L587.77,278.07 L584.13,283.14 Z" fill="#1a1a1a"/>
<path d="M570.90,307.95 L575.68,302.50 L577.18,302.50 L577.18,324.30 L575.04,324.30 L575.04,306.64 L570.90,310.68 Z" fill="#1a1a1a"/>
<text transform="translate(581.26,324.30) scale(0.687,0.92)" font-size="31.69" font-weight="normal" fill="#1a1a1a" stroke="#1a1a1a" stroke-width="0.66">x</text>
<polygon points="553.0,346.8 684.0,366.2 684.0,580.0 553.0,560.0" fill="#fff" stroke="#454545" stroke-width="0.85" stroke-linejoin="round"/>
<polyline points="553.0,348.5 684.0,368.0" fill="none" stroke="#454545" stroke-width="0.85" stroke-linejoin="round" stroke-linecap="round"/>
<polyline points="552.8,532.2 633.9,551.7" fill="none" stroke="#454545" stroke-width="0.85" stroke-linejoin="round" stroke-linecap="round"/>
<polyline points="556.1,532.5 556.1,558.5" fill="none" stroke="#454545" stroke-width="0.9" stroke-linejoin="round" stroke-linecap="round"/>
<polyline points="556.1,557.8 633.9,576.1" fill="none" stroke="#454545" stroke-width="0.85" stroke-linejoin="round" stroke-linecap="round"/>
<polyline points="553.9,560.0 633.9,579.4" fill="none" stroke="#454545" stroke-width="0.9" stroke-linejoin="round" stroke-linecap="round"/>
<polygon points="553.9,561.5 633.9,581 633.9,583 553.9,563.5" fill="#999"/>
<polygon points="498.9,380.2 550.2,345.2 553.0,346.8 553.0,596.0 504.5,641.9 498.9,640.0" fill="#fff" stroke="#454545" stroke-width="0.85" stroke-linejoin="round"/>
<polyline points="504.5,641.9 504.5,382.5 553.0,346.8" fill="none" stroke="#454545" stroke-width="0.85" stroke-linejoin="round" stroke-linecap="round"/>
<polyline points="498.9,380.2 504.5,382.5" fill="none" stroke="#454545" stroke-width="0.85" stroke-linejoin="round" stroke-linecap="round"/>
<polygon points="508.5,430.4 549.1,397.4 551.6,399.9 510.8,433.2" fill="#fff" stroke="none" stroke-width="0" stroke-linejoin="round"/>
<polyline points="508.5,430.4 549.1,397.4" fill="none" stroke="#333" stroke-width="0.8" stroke-linejoin="round" stroke-linecap="round"/>
<polyline points="510.8,433.2 551.6,399.9" fill="none" stroke="#222" stroke-width="1.0" stroke-linejoin="round" stroke-linecap="round"/>
<polyline points="549.1,397.4 549.4,399.0 551.6,399.9" fill="none" stroke="#333" stroke-width="0.8" stroke-linejoin="round" stroke-linecap="round"/>
<ellipse cx="508.50" cy="432.70" rx="2.2" ry="2.9" transform="rotate(-39.1 508.50 432.70)" fill="#fff" stroke="#333" stroke-width="0.8"/>
<polyline points="507.5,432.7 509.8,432.8" fill="none" stroke="#666" stroke-width="0.6" stroke-linejoin="round" stroke-linecap="round"/>
<polyline points="516.2,426.8 517.0,426.2" fill="none" stroke="#777" stroke-width="0.7" stroke-linejoin="round" stroke-linecap="round"/>
<polyline points="518.7,424.8 519.5,424.2" fill="none" stroke="#777" stroke-width="0.7" stroke-linejoin="round" stroke-linecap="round"/>
<polyline points="526.6,418.4 527.4,417.7" fill="none" stroke="#777" stroke-width="0.7" stroke-linejoin="round" stroke-linecap="round"/>
<polyline points="529.5,416.0 530.3,415.4" fill="none" stroke="#777" stroke-width="0.7" stroke-linejoin="round" stroke-linecap="round"/>
<polyline points="532.0,413.9 532.8,413.3" fill="none" stroke="#777" stroke-width="0.7" stroke-linejoin="round" stroke-linecap="round"/>
<polyline points="541.2,406.5 542.0,405.9" fill="none" stroke="#777" stroke-width="0.7" stroke-linejoin="round" stroke-linecap="round"/>
<polyline points="544.6,403.8 545.3,403.1" fill="none" stroke="#777" stroke-width="0.7" stroke-linejoin="round" stroke-linecap="round"/>
<polygon points="508.5,488.7 549.1,455.8 551.6,458.3 510.8,491.5" fill="#fff" stroke="none" stroke-width="0" stroke-linejoin="round"/>
<polyline points="508.5,488.7 549.1,455.8" fill="none" stroke="#333" stroke-width="0.8" stroke-linejoin="round" stroke-linecap="round"/>
<polyline points="510.8,491.5 551.6,458.3" fill="none" stroke="#222" stroke-width="1.0" stroke-linejoin="round" stroke-linecap="round"/>
<polyline points="549.1,455.8 549.4,457.4 551.6,458.3" fill="none" stroke="#333" stroke-width="0.8" stroke-linejoin="round" stroke-linecap="round"/>
<ellipse cx="508.50" cy="491.00" rx="2.2" ry="2.9" transform="rotate(-39.0 508.50 491.00)" fill="#fff" stroke="#333" stroke-width="0.8"/>
<polyline points="507.5,491.0 509.8,491.1" fill="none" stroke="#666" stroke-width="0.6" stroke-linejoin="round" stroke-linecap="round"/>
<polyline points="516.2,485.1 517.0,484.5" fill="none" stroke="#777" stroke-width="0.7" stroke-linejoin="round" stroke-linecap="round"/>
<polyline points="518.7,483.1 519.5,482.5" fill="none" stroke="#777" stroke-width="0.7" stroke-linejoin="round" stroke-linecap="round"/>
<polyline points="526.6,476.7 527.4,476.1" fill="none" stroke="#777" stroke-width="0.7" stroke-linejoin="round" stroke-linecap="round"/>
<polyline points="529.5,474.3 530.3,473.7" fill="none" stroke="#777" stroke-width="0.7" stroke-linejoin="round" stroke-linecap="round"/>
<polyline points="532.0,472.3 532.8,471.7" fill="none" stroke="#777" stroke-width="0.7" stroke-linejoin="round" stroke-linecap="round"/>
<polyline points="541.2,464.9 542.0,464.2" fill="none" stroke="#777" stroke-width="0.7" stroke-linejoin="round" stroke-linecap="round"/>
<polyline points="544.6,462.2 545.3,461.5" fill="none" stroke="#777" stroke-width="0.7" stroke-linejoin="round" stroke-linecap="round"/>
<polygon points="509.8,549.0 548.4,519.6 550.9,522.2 512.0,551.8" fill="#fff" stroke="none" stroke-width="0" stroke-linejoin="round"/>
<polyline points="509.8,549.0 548.4,519.6" fill="none" stroke="#333" stroke-width="0.8" stroke-linejoin="round" stroke-linecap="round"/>
<polyline points="512.0,551.8 550.9,522.2" fill="none" stroke="#222" stroke-width="1.0" stroke-linejoin="round" stroke-linecap="round"/>
<polyline points="548.4,519.6 548.7,521.1 550.9,522.2" fill="none" stroke="#333" stroke-width="0.8" stroke-linejoin="round" stroke-linecap="round"/>
<ellipse cx="509.70" cy="551.30" rx="2.2" ry="2.9" transform="rotate(-37.3 509.70 551.30)" fill="#fff" stroke="#333" stroke-width="0.8"/>
<polyline points="508.7,551.3 511.0,551.5" fill="none" stroke="#666" stroke-width="0.6" stroke-linejoin="round" stroke-linecap="round"/>
<polyline points="517.0,546.1 517.8,545.5" fill="none" stroke="#777" stroke-width="0.7" stroke-linejoin="round" stroke-linecap="round"/>
<polyline points="519.4,544.3 520.2,543.7" fill="none" stroke="#777" stroke-width="0.7" stroke-linejoin="round" stroke-linecap="round"/>
<polyline points="527.0,538.5 527.8,537.9" fill="none" stroke="#777" stroke-width="0.7" stroke-linejoin="round" stroke-linecap="round"/>
<polyline points="529.8,536.4 530.6,535.8" fill="none" stroke="#777" stroke-width="0.7" stroke-linejoin="round" stroke-linecap="round"/>
<polyline points="532.2,534.6 533.0,534.0" fill="none" stroke="#777" stroke-width="0.7" stroke-linejoin="round" stroke-linecap="round"/>
<polyline points="540.9,527.9 541.7,527.3" fill="none" stroke="#777" stroke-width="0.7" stroke-linejoin="round" stroke-linecap="round"/>
<polyline points="544.1,525.5 544.9,524.9" fill="none" stroke="#777" stroke-width="0.7" stroke-linejoin="round" stroke-linecap="round"/>
<polygon points="553.9,560.0 504.5,607.3 504.5,616.7 633.5,652.8 633.9,579.4" fill="#fff" stroke="#454545" stroke-width="0.85" stroke-linejoin="round"/>
<polygon points="553.9,561.5 633.9,581 633.9,583 553.9,563.5" fill="#999"/>
<polyline points="504.5,607.3 633.5,642.3" fill="none" stroke="#454545" stroke-width="0.85" stroke-linejoin="round" stroke-linecap="round"/>
<ellipse cx="554.9" cy="567.7" rx="2.9" ry="1.4" fill="#fff" stroke="#333" stroke-width="0.9"/>
<ellipse cx="540.2" cy="581.2" rx="2.9" ry="1.4" fill="#fff" stroke="#333" stroke-width="0.9"/>
<ellipse cx="523.8" cy="596.4" rx="2.9" ry="1.4" fill="#fff" stroke="#333" stroke-width="0.9"/>
<polygon points="634.2,410.5 684.8,366.2 691.1,368.5 691.1,612.0 639.3,683.2 634.2,680.8" fill="#fff" stroke="#454545" stroke-width="0.85" stroke-linejoin="round"/>
<polyline points="639.3,683.2 639.3,412.8 691.1,368.5" fill="none" stroke="#454545" stroke-width="0.85" stroke-linejoin="round" stroke-linecap="round"/>
<polyline points="634.2,410.5 639.3,412.8" fill="none" stroke="#454545" stroke-width="0.85" stroke-linejoin="round" stroke-linecap="round"/>
<polyline points="508.6,338.0 508.6,398.0" fill="none" stroke="#666" stroke-width="0.8" stroke-dasharray="3,3" stroke-linejoin="round" stroke-linecap="round"/>
<polyline points="528.3,338.0 528.3,385.0" fill="none" stroke="#666" stroke-width="0.8" stroke-dasharray="3,3" stroke-linejoin="round" stroke-linecap="round"/>
<polyline points="548.3,338.0 548.3,372.0" fill="none" stroke="#666" stroke-width="0.8" stroke-dasharray="3,3" stroke-linejoin="round" stroke-linecap="round"/>
<polyline points="643.3,359.0 643.3,401.0" fill="none" stroke="#666" stroke-width="0.8" stroke-dasharray="3,3" stroke-linejoin="round" stroke-linecap="round"/>
<polyline points="662.9,345.0 662.9,390.0" fill="none" stroke="#666" stroke-width="0.8" stroke-dasharray="3,3" stroke-linejoin="round" stroke-linecap="round"/>
<polyline points="683.0,334.0 683.0,379.5" fill="none" stroke="#666" stroke-width="0.8" stroke-dasharray="3,3" stroke-linejoin="round" stroke-linecap="round"/>
<text transform="translate(582.45,428.68) scale(0.675,1)" font-size="32.49" font-weight="bold" fill="#1a1a1a">A</text>
<text transform="translate(598.29,428.68) scale(0.675,1)" font-size="32.49" font-weight="bold" fill="#1a1a1a">6</text>
<path d="M585.00,438.75 L589.62,433.00 L591.07,433.00 L591.07,456.00 L589.01,456.00 L589.01,437.37 L585.00,441.62 Z" fill="#1a1a1a"/>
<text transform="translate(595.01,456.00) scale(0.629,0.92)" font-size="33.43" font-weight="normal" fill="#1a1a1a" stroke="#1a1a1a" stroke-width="0.72">x</text>
<text transform="translate(570.76,599.30) scale(0.659,1)" font-size="32.85" font-weight="bold" fill="#1a1a1a">A</text>
<text transform="translate(586.38,599.30) scale(0.659,1)" font-size="32.85" font-weight="bold" fill="#1a1a1a">4</text>
<path d="M573.30,609.75 L578.02,604.00 L579.49,604.00 L579.49,627.00 L577.38,627.00 L577.38,608.37 L573.30,612.62 Z" fill="#1a1a1a"/>
<text transform="translate(583.51,627.00) scale(0.641,0.92)" font-size="33.43" font-weight="normal" fill="#1a1a1a" stroke="#1a1a1a" stroke-width="0.70">x</text>
<path d="M581.7,504.4 Q591,515 585.6,541" fill="#1a1a1a" stroke="#1a1a1a" stroke-width="0.8" stroke-linejoin="round" stroke-linecap="round"/>
<path d="M581.2,504.4 Q589,510 589.6,522 Q589.8,532 587.6,541 L583.6,541 Q586,530 585.5,520 Q585,512 581.2,504.4 Z" fill="#1a1a1a" stroke="#1a1a1a" stroke-width="0.6" stroke-linejoin="round" stroke-linecap="round"/>
<polygon points="580.6,538.9 591.1,541.2 585.0,547.8" fill="#1a1a1a" stroke="#454545" stroke-width="0.5" stroke-linejoin="round"/>
<path d="M754.74,507.30 A55,82 0 0 1 799.28,601.25 A55,82 0 0 1 736.97,669.12 L671.30,705.00 L724.22,663.92 A55,82 0 0 1 692.18,565.12 A55,82 0 0 1 754.74,507.30 Z" fill="#fff" stroke="none" stroke-width="0" stroke-linejoin="round" stroke-linecap="round"/>
<path d="M783.21,529.01 A55,82 0 0 1 794.35,624.20 A55,82 0 0 1 736.97,669.12 L671.30,705.00 L724.22,663.92 A55,82 0 0 1 692.18,565.12 A55,82 0 0 1 754.74,507.30" fill="none" stroke="#1a1a1a" stroke-width="1.1" stroke-linejoin="round" stroke-linecap="round"/>
<text transform="translate(762.92,511.90) scale(0.628,0.92)" font-size="40.84" font-weight="bold" fill="#1a1a1a" stroke="#1a1a1a" stroke-width="0.96">x</text>
<text transform="translate(777.18,511.90) scale(0.628,1)" font-size="40.84" font-weight="bold" fill="#1a1a1a" stroke="#1a1a1a" stroke-width="0.96">4</text>
<text transform="translate(741.01,541.64) scale(0.720,1)" font-size="26.55" font-weight="bold" fill="#1a1a1a">Φ</text>
<path d="M758.58,527.94 L762.31,523.37 L763.81,523.37 L763.81,541.64 L761.66,541.64 L761.66,526.84 L758.58,530.95 Z" fill="#1a1a1a"/>
<text transform="translate(767.35,541.64) scale(0.720,1)" font-size="26.55" font-weight="bold" fill="#1a1a1a">0</text>
<path d="M751.90,552.20 L755.75,547.50 L756.95,547.50 L756.95,566.30 L755.23,566.30 L755.23,551.07 L751.90,554.55 Z" fill="#1a1a1a"/>
<text transform="translate(760.23,566.30) scale(0.641,0.92)" font-size="27.33" font-weight="normal" fill="#1a1a1a" stroke="#1a1a1a" stroke-width="0.70">x</text>
<text transform="translate(698.41,609.43) scale(0.695,1)" font-size="27.61" font-weight="bold" fill="#1a1a1a">Φ</text>
<text transform="translate(714.16,609.43) scale(0.695,1)" font-size="27.61" font-weight="bold" fill="#1a1a1a">5</text>
<path d="M707.70,619.67 L711.64,615.00 L712.87,615.00 L712.87,633.70 L711.11,633.70 L711.11,618.55 L707.70,622.01 Z" fill="#1a1a1a"/>
<text transform="translate(716.23,633.70) scale(0.659,0.92)" font-size="27.18" font-weight="normal" fill="#1a1a1a" stroke="#1a1a1a" stroke-width="0.68">x</text>
<polyline points="710.3,533.0 710.3,616.3" fill="none" stroke="#555" stroke-width="0.8" stroke-linejoin="round" stroke-linecap="round"/>
<polyline points="708.3,537.0 708.3,590.0" fill="none" stroke="#555" stroke-width="0.8" stroke-linejoin="round" stroke-linecap="round"/>
<polygon points="711.0,546.3 739.0,541.0 739.7,585.0 711.0,590.3" fill="#fff" stroke="#444" stroke-width="0.9" stroke-linejoin="round"/>
<polyline points="708.3,540.3 739.0,541.0 711.0,546.3" fill="none" stroke="#444" stroke-width="0.9" stroke-linejoin="round" stroke-linecap="round"/>
<ellipse cx="725" cy="566.3" rx="6.5" ry="10.2" transform="rotate(15 725 566.3)" fill="none" stroke="#555" stroke-width="0.8"/>
<polyline points="723.5,565.0 738.3,585.0" fill="none" stroke="#454545" stroke-width="0.8" stroke-dasharray="1.6,1.4" stroke-linejoin="round" stroke-linecap="round"/>
<polyline points="693.0,600.3 711.0,617.0" fill="none" stroke="#444" stroke-width="0.8" stroke-linejoin="round" stroke-linecap="round"/>
<polyline points="711.0,617.0 793.0,613.7" fill="none" stroke="#444" stroke-width="0.8" stroke-linejoin="round" stroke-linecap="round"/>
<path d="M741.14,586.86 L738.78,590.47 L742.99,589.53 L740.64,593.14 L744.85,592.19 L742.49,595.81 L746.70,594.86 L744.34,598.47 L748.55,597.53 L746.19,601.14 L750.40,600.19 L748.04,603.81 L752.25,602.86 L749.89,606.47 L754.11,605.53 L751.75,609.14 L755.96,608.19 L753.60,611.81 L757.81,610.86 L755.45,614.47 L759.66,613.53 L757.30,617.14 L761.51,616.19 L759.15,619.81 L763.36,618.86 L761.01,622.47 L765.22,621.53 L762.86,625.14" fill="none" stroke="#1a1a1a" stroke-width="0.9" stroke-linejoin="round" stroke-linecap="round"/>
<polyline points="737.9,589.1 762.9,625.1" fill="none" stroke="#454545" stroke-width="0.6" stroke-linejoin="round" stroke-linecap="round"/>
<polyline points="741.1,586.9 766.1,622.9" fill="none" stroke="#454545" stroke-width="0.6" stroke-linejoin="round" stroke-linecap="round"/>
<ellipse cx="766.5" cy="627.5" rx="3.6" ry="6.4" transform="rotate(35 766.5 627.5)" fill="#fff" stroke="#1a1a1a" stroke-width="1"/>
<path d="M762.5,591.5 Q764,604 752,616 Q747,620 742.5,621" fill="none" stroke="#1a1a1a" stroke-width="2.4" stroke-linejoin="round" stroke-linecap="round"/>
<path d="M762.5,591.5 Q758,589.5 758,593 Q759,595 761,594.5" fill="none" stroke="#1a1a1a" stroke-width="0.8" stroke-linejoin="round" stroke-linecap="round"/>
<path d="M743,620 Q741,612 746,606 M743.5,605 L748,603 L747.5,609" fill="none" stroke="#1a1a1a" stroke-width="0.8" stroke-linejoin="round" stroke-linecap="round"/>
<text transform="translate(480.68,695.34) scale(0.657,1)" font-size="41.02" font-weight="bold" fill="#1a1a1a">3</text>
<polygon points="558.3,687.5 704.0,720.3 704.0,735.6 558.3,703.0" fill="#fff" stroke="#454545" stroke-width="0.85" stroke-linejoin="round"/>
<polyline points="559.2,690.0 704.0,722.8" fill="none" stroke="#454545" stroke-width="0.85" stroke-linejoin="round" stroke-linecap="round"/>
<text transform="translate(591.16,697.19) scale(0.673,1)" font-size="32.25" font-weight="bold" fill="#1a1a1a">A</text>
<text transform="translate(606.83,697.19) scale(0.673,1)" font-size="32.25" font-weight="bold" fill="#1a1a1a">5</text>
<path d="M592.50,708.12 L597.24,702.50 L598.72,702.50 L598.72,725.00 L596.60,725.00 L596.60,706.77 L592.50,710.94 Z" fill="#1a1a1a"/>
<text transform="translate(602.76,725.00) scale(0.659,0.92)" font-size="32.70" font-weight="normal" fill="#1a1a1a" stroke="#1a1a1a" stroke-width="0.68">x</text>
<polyline points="548.0,693.0 558.0,695.0" fill="none" stroke="#454545" stroke-width="0.85" stroke-dasharray="2,2" stroke-linejoin="round" stroke-linecap="round"/>
<polyline points="706.0,728.0 717.0,730.0" fill="none" stroke="#454545" stroke-width="0.85" stroke-dasharray="2,2" stroke-linejoin="round" stroke-linecap="round"/>
<polygon points="536.6,692.3 547.6,694.8 548.4,691.2 537.4,688.7" fill="#777" stroke="#333" stroke-width="0.9" stroke-linejoin="round"/>
<polyline points="537.8,692.5 541.7,689.7" fill="none" stroke="#444" stroke-width="0.8" stroke-linejoin="round" stroke-linecap="round"/>
<polyline points="540.5,693.2 544.5,690.3" fill="none" stroke="#444" stroke-width="0.8" stroke-linejoin="round" stroke-linecap="round"/>
<polyline points="543.3,693.8 547.2,691.0" fill="none" stroke="#444" stroke-width="0.8" stroke-linejoin="round" stroke-linecap="round"/>
<polygon points="717.1,732.3 728.1,734.8 728.9,731.2 717.9,728.7" fill="#777" stroke="#333" stroke-width="0.9" stroke-linejoin="round"/>
<polyline points="718.3,732.5 722.2,729.7" fill="none" stroke="#444" stroke-width="0.8" stroke-linejoin="round" stroke-linecap="round"/>
<polyline points="721.0,733.2 725.0,730.3" fill="none" stroke="#444" stroke-width="0.8" stroke-linejoin="round" stroke-linecap="round"/>
<polyline points="723.8,733.8 727.7,731.0" fill="none" stroke="#444" stroke-width="0.8" stroke-linejoin="round" stroke-linecap="round"/>
<polygon points="490.9,754.0 547.2,716.1 551.5,718.0 551.5,968.0 496.8,1023.4 490.9,1021.0" fill="#fff" stroke="#454545" stroke-width="0.85" stroke-linejoin="round"/>
<polyline points="496.8,1023.4 496.8,755.3 551.5,718.0" fill="none" stroke="#454545" stroke-width="0.85" stroke-linejoin="round" stroke-linecap="round"/>
<polyline points="490.9,754.0 496.8,755.3" fill="none" stroke="#454545" stroke-width="0.85" stroke-linejoin="round" stroke-linecap="round"/>
<polygon points="501.5,803.3 542.2,773.7 544.7,776.4 503.6,806.2" fill="#fff" stroke="none" stroke-width="0" stroke-linejoin="round"/>
<polyline points="501.5,803.3 542.2,773.7" fill="none" stroke="#333" stroke-width="0.8" stroke-linejoin="round" stroke-linecap="round"/>
<polyline points="503.6,806.2 544.7,776.4" fill="none" stroke="#222" stroke-width="1.0" stroke-linejoin="round" stroke-linecap="round"/>
<polyline points="542.2,773.7 542.5,775.3 544.7,776.4" fill="none" stroke="#333" stroke-width="0.8" stroke-linejoin="round" stroke-linecap="round"/>
<ellipse cx="501.30" cy="805.60" rx="2.2" ry="2.9" transform="rotate(-35.9 501.30 805.60)" fill="#fff" stroke="#333" stroke-width="0.8"/>
<polyline points="500.3,805.6 502.6,805.8" fill="none" stroke="#666" stroke-width="0.6" stroke-linejoin="round" stroke-linecap="round"/>
<polyline points="509.0,800.4 509.8,799.8" fill="none" stroke="#777" stroke-width="0.7" stroke-linejoin="round" stroke-linecap="round"/>
<polyline points="511.6,798.5 512.4,798.0" fill="none" stroke="#777" stroke-width="0.7" stroke-linejoin="round" stroke-linecap="round"/>
<polyline points="519.5,792.8 520.3,792.2" fill="none" stroke="#777" stroke-width="0.7" stroke-linejoin="round" stroke-linecap="round"/>
<polyline points="522.5,790.6 523.3,790.1" fill="none" stroke="#777" stroke-width="0.7" stroke-linejoin="round" stroke-linecap="round"/>
<polyline points="525.0,788.8 525.8,788.2" fill="none" stroke="#777" stroke-width="0.7" stroke-linejoin="round" stroke-linecap="round"/>
<polyline points="534.2,782.1 535.0,781.5" fill="none" stroke="#777" stroke-width="0.7" stroke-linejoin="round" stroke-linecap="round"/>
<polyline points="537.6,779.7 538.4,779.1" fill="none" stroke="#777" stroke-width="0.7" stroke-linejoin="round" stroke-linecap="round"/>
<polygon points="501.4,865.7 542.2,835.5 544.7,838.1 503.6,868.6" fill="#fff" stroke="none" stroke-width="0" stroke-linejoin="round"/>
<polyline points="501.4,865.7 542.2,835.5" fill="none" stroke="#333" stroke-width="0.8" stroke-linejoin="round" stroke-linecap="round"/>
<polyline points="503.6,868.6 544.7,838.1" fill="none" stroke="#222" stroke-width="1.0" stroke-linejoin="round" stroke-linecap="round"/>
<polyline points="542.2,835.5 542.5,837.0 544.7,838.1" fill="none" stroke="#333" stroke-width="0.8" stroke-linejoin="round" stroke-linecap="round"/>
<ellipse cx="501.30" cy="868.00" rx="2.2" ry="2.9" transform="rotate(-36.5 501.30 868.00)" fill="#fff" stroke="#333" stroke-width="0.8"/>
<polyline points="500.3,868.0 502.6,868.2" fill="none" stroke="#666" stroke-width="0.6" stroke-linejoin="round" stroke-linecap="round"/>
<polyline points="509.0,862.6 509.8,862.0" fill="none" stroke="#777" stroke-width="0.7" stroke-linejoin="round" stroke-linecap="round"/>
<polyline points="511.6,860.8 512.4,860.2" fill="none" stroke="#777" stroke-width="0.7" stroke-linejoin="round" stroke-linecap="round"/>
<polyline points="519.5,854.9 520.3,854.3" fill="none" stroke="#777" stroke-width="0.7" stroke-linejoin="round" stroke-linecap="round"/>
<polyline points="522.5,852.7 523.3,852.1" fill="none" stroke="#777" stroke-width="0.7" stroke-linejoin="round" stroke-linecap="round"/>
<polyline points="525.0,850.8 525.8,850.2" fill="none" stroke="#777" stroke-width="0.7" stroke-linejoin="round" stroke-linecap="round"/>
<polyline points="534.2,844.0 535.0,843.4" fill="none" stroke="#777" stroke-width="0.7" stroke-linejoin="round" stroke-linecap="round"/>
<polyline points="537.6,841.5 538.4,840.9" fill="none" stroke="#777" stroke-width="0.7" stroke-linejoin="round" stroke-linecap="round"/>
<polygon points="501.5,924.4 543.0,894.0 545.5,896.7 503.6,927.3" fill="#fff" stroke="none" stroke-width="0" stroke-linejoin="round"/>
<polyline points="501.5,924.4 543.0,894.0" fill="none" stroke="#333" stroke-width="0.8" stroke-linejoin="round" stroke-linecap="round"/>
<polyline points="503.6,927.3 545.5,896.7" fill="none" stroke="#222" stroke-width="1.0" stroke-linejoin="round" stroke-linecap="round"/>
<polyline points="543.0,894.0 543.3,895.6 545.5,896.7" fill="none" stroke="#333" stroke-width="0.8" stroke-linejoin="round" stroke-linecap="round"/>
<ellipse cx="501.30" cy="926.70" rx="2.2" ry="2.9" transform="rotate(-36.1 501.30 926.70)" fill="#fff" stroke="#333" stroke-width="0.8"/>
<polyline points="500.3,926.7 502.6,926.9" fill="none" stroke="#666" stroke-width="0.6" stroke-linejoin="round" stroke-linecap="round"/>
<polyline points="509.2,921.3 510.0,920.7" fill="none" stroke="#777" stroke-width="0.7" stroke-linejoin="round" stroke-linecap="round"/>
<polyline points="511.7,919.5 512.6,918.9" fill="none" stroke="#777" stroke-width="0.7" stroke-linejoin="round" stroke-linecap="round"/>
<polyline points="519.9,913.5 520.7,912.9" fill="none" stroke="#777" stroke-width="0.7" stroke-linejoin="round" stroke-linecap="round"/>
<polyline points="522.9,911.3 523.7,910.8" fill="none" stroke="#777" stroke-width="0.7" stroke-linejoin="round" stroke-linecap="round"/>
<polyline points="525.4,909.5 526.3,908.9" fill="none" stroke="#777" stroke-width="0.7" stroke-linejoin="round" stroke-linecap="round"/>
<polyline points="534.9,902.6 535.7,902.0" fill="none" stroke="#777" stroke-width="0.7" stroke-linejoin="round" stroke-linecap="round"/>
<polyline points="538.3,900.1 539.1,899.5" fill="none" stroke="#777" stroke-width="0.7" stroke-linejoin="round" stroke-linecap="round"/>
<polygon points="548.8,744.7 656.0,767.3 656.0,943.0 548.4,922.0" fill="#fff" stroke="#454545" stroke-width="0.85" stroke-linejoin="round"/>
<polyline points="548.8,746.5 656.0,769.0" fill="none" stroke="#454545" stroke-width="0.85" stroke-linejoin="round" stroke-linecap="round"/>
<polygon points="548.4,922.0 496.5,966.4 496.5,976.0 636.0,1018.0 640.0,943.0" fill="#fff" stroke="#454545" stroke-width="0.85" stroke-linejoin="round"/>
<polyline points="496.5,966.4 636.0,1007.5" fill="none" stroke="#454545" stroke-width="0.85" stroke-linejoin="round" stroke-linecap="round"/>
<ellipse cx="548.1" cy="928" rx="2.9" ry="1.4" fill="#fff" stroke="#333" stroke-width="0.9"/>
<ellipse cx="531" cy="945.4" rx="2.9" ry="1.4" fill="#fff" stroke="#333" stroke-width="0.9"/>
<ellipse cx="513.6" cy="960.4" rx="2.9" ry="1.4" fill="#fff" stroke="#333" stroke-width="0.9"/>
<polygon points="636.9,784.7 688.0,739.3 694.6,742.0 694.6,991.0 643.3,1072.0 636.9,1069.0" fill="#fff" stroke="#454545" stroke-width="0.85" stroke-linejoin="round"/>
<polyline points="643.3,1072.0 643.3,787.3 694.6,742.0" fill="none" stroke="#454545" stroke-width="0.85" stroke-linejoin="round" stroke-linecap="round"/>
<polyline points="636.9,784.7 643.3,787.3" fill="none" stroke="#454545" stroke-width="0.85" stroke-linejoin="round" stroke-linecap="round"/>
<text transform="translate(458.56,861.10) scale(0.669,1)" font-size="32.51" font-weight="bold" fill="#1a1a1a">A</text>
<text transform="translate(474.27,861.10) scale(0.669,1)" font-size="32.51" font-weight="bold" fill="#1a1a1a">2</text>
<path d="M460.40,872.90 L465.14,867.70 L466.62,867.70 L466.62,888.50 L464.50,888.50 L464.50,871.65 L460.40,875.50 Z" fill="#1a1a1a"/>
<text transform="translate(470.66,888.50) scale(0.713,0.92)" font-size="30.23" font-weight="normal" fill="#1a1a1a" stroke="#1a1a1a" stroke-width="0.63">x</text>
<text transform="translate(578.84,824.89) scale(0.705,1)" font-size="31.92" font-weight="bold" fill="#1a1a1a">A</text>
<text transform="translate(595.09,824.89) scale(0.705,1)" font-size="31.92" font-weight="bold" fill="#1a1a1a">6</text>
<path d="M582.20,835.42 L586.94,830.00 L588.42,830.00 L588.42,851.70 L586.30,851.70 L586.30,834.12 L582.20,838.14 Z" fill="#1a1a1a"/>
<text transform="translate(592.46,851.70) scale(0.683,0.92)" font-size="31.54" font-weight="normal" fill="#1a1a1a" stroke="#1a1a1a" stroke-width="0.66">x</text>
<text transform="translate(569.47,957.40) scale(0.644,1)" font-size="32.85" font-weight="bold" fill="#1a1a1a">A</text>
<text transform="translate(584.75,957.40) scale(0.644,1)" font-size="32.85" font-weight="bold" fill="#1a1a1a">4</text>
<path d="M571.80,967.62 L576.33,962.20 L577.75,962.20 L577.75,983.90 L575.73,983.90 L575.73,966.32 L571.80,970.34 Z" fill="#1a1a1a"/>
<text transform="translate(581.61,983.90) scale(0.654,0.92)" font-size="31.54" font-weight="normal" fill="#1a1a1a" stroke="#1a1a1a" stroke-width="0.69">x</text>
<ellipse cx="765.8" cy="733.9" rx="32.5" ry="47.8" fill="#fff" stroke="none"/>
<path d="M796.20,717.00 A32.5,47.8 0 0 1 781.15,776.04 A32.5,47.8 0 0 1 739.39,761.76 A32.5,47.8 0 0 1 743.58,699.01 A32.5,47.8 0 0 1 786.43,696.96" fill="none" stroke="#1a1a1a" stroke-width="1.1" stroke-linejoin="round" stroke-linecap="round"/>
<text transform="translate(786.52,716.70) scale(0.653,0.92)" font-size="40.67" font-weight="bold" fill="#1a1a1a" stroke="#1a1a1a" stroke-width="0.92">x</text>
<text transform="translate(801.29,716.70) scale(0.653,1)" font-size="40.67" font-weight="bold" fill="#1a1a1a" stroke="#1a1a1a" stroke-width="0.92">2</text>
<text transform="translate(747.09,733.90) scale(0.719,1)" font-size="32.04" font-weight="bold" fill="#1a1a1a">Φ</text>
<text transform="translate(766.00,733.90) scale(0.719,1)" font-size="32.04" font-weight="bold" fill="#1a1a1a">7</text>
<path d="M754.40,754.60 L759.23,748.90 L760.74,748.90 L760.74,771.70 L758.58,771.70 L758.58,753.23 L754.40,757.45 Z" fill="#1a1a1a"/>
<text transform="translate(764.86,771.70) scale(0.663,0.92)" font-size="33.14" font-weight="normal" fill="#1a1a1a" stroke="#1a1a1a" stroke-width="0.68">x</text>
<path d="M826.36,1061.33 A71,104 0 0 1 744.74,1052.13 Q705.3,1064.8 657.1,1064.8 Q702.2,1062.4 738.07,1042.93 L738.07,1042.93 A71,104 0 0 1 724.99,1013.80 Q705.3,1014.2 689.8,1004.1 Q710,1009.5 722.71,1005.17 L722.71,1005.17 A71,104 0 0 1 749.41,886.67 A71,104 0 0 1 834.55,891.02 A71,104 0 0 1 855.55,1011.97 Z" fill="#fff" stroke="none" stroke-width="0" stroke-linejoin="round" stroke-linecap="round"/>
<path d="M826.36,1061.33 A71,104 0 0 1 744.74,1052.13 Q705.3,1064.8 657.1,1064.8 Q702.2,1062.4 738.07,1042.93 L738.07,1042.93 A71,104 0 0 1 724.99,1013.80 Q705.3,1014.2 689.8,1004.1 Q710,1009.5 722.71,1005.17 L722.71,1005.17 A71,104 0 0 1 749.41,886.67 A71,104 0 0 1 834.55,891.02 A71,104 0 0 1 855.55,1011.97" fill="none" stroke="#1a1a1a" stroke-width="1.1" stroke-linejoin="round" stroke-linecap="round"/>
<text transform="translate(737.42,973.55) scale(0.736,1)" font-size="25.42" font-weight="bold" fill="#1a1a1a">Φ</text>
<text transform="translate(752.79,973.55) scale(0.736,1)" font-size="25.42" font-weight="bold" fill="#1a1a1a">9</text>
<path d="M745.90,985.35 L750.02,981.00 L751.31,981.00 L751.31,998.40 L749.47,998.40 L749.47,984.31 L745.90,987.52 Z" fill="#1a1a1a"/>
<text transform="translate(754.83,998.40) scale(0.741,0.92)" font-size="25.29" font-weight="normal" fill="#1a1a1a" stroke="#1a1a1a" stroke-width="0.61">x</text>
<text transform="translate(752.52,1030.65) scale(0.732,1)" font-size="25.56" font-weight="bold" fill="#1a1a1a">Φ</text>
<text transform="translate(767.87,1030.65) scale(0.732,1)" font-size="25.56" font-weight="bold" fill="#1a1a1a">8</text>
<text transform="translate(755.79,1055.40) scale(0.706,1)" font-size="25.78" font-weight="normal" fill="#1a1a1a" stroke="#1a1a1a" stroke-width="0.64">2</text>
<text transform="translate(765.90,1055.40) scale(0.706,0.92)" font-size="25.78" font-weight="normal" fill="#1a1a1a" stroke="#1a1a1a" stroke-width="0.64">x</text>
<text transform="translate(826.62,1048.20) scale(0.660,0.92)" font-size="39.83" font-weight="bold" fill="#1a1a1a" stroke="#1a1a1a" stroke-width="0.91">x</text>
<text transform="translate(841.23,1048.20) scale(0.660,1)" font-size="39.83" font-weight="bold" fill="#1a1a1a" stroke="#1a1a1a" stroke-width="0.91">4</text>
<polyline points="760.0,876.7 760.0,941.0" fill="none" stroke="#444" stroke-width="0.8" stroke-linejoin="round" stroke-linecap="round"/>
<polyline points="789.2,868.5 789.2,963.7" fill="none" stroke="#444" stroke-width="0.8" stroke-linejoin="round" stroke-linecap="round"/>
<polyline points="760.0,941.0 789.2,963.7 846.2,944.0" fill="none" stroke="#444" stroke-width="0.8" stroke-linejoin="round" stroke-linecap="round"/>
<path d="M801.5,997 Q795,988 796.8,977 L799.6,977.5 Q798.5,988 801.8,996.6 Z" fill="#1a1a1a" stroke="#1a1a1a" stroke-width="0.5" stroke-linejoin="round" stroke-linecap="round"/>
<polygon points="794.8,979.2 798.4,972.8 801.6,979.6" fill="#1a1a1a" stroke="#1a1a1a" stroke-width="0.6" stroke-linejoin="round"/>
<polygon points="781.3,1015.0 806.6,1005.6 820.3,1013.6 792.8,1025.1" fill="#fff" stroke="#454545" stroke-width="1" stroke-linejoin="round"/>
<polyline points="784.0,1016.5 808.0,1008.0" fill="none" stroke="#454545" stroke-width="0.7" stroke-linejoin="round" stroke-linecap="round"/>
<polyline points="792.0,1020.5 816.5,1011.5" fill="none" stroke="#454545" stroke-width="0.7" stroke-linejoin="round" stroke-linecap="round"/>
<polyline points="781.3,1015.0 781.3,1017.0" fill="none" stroke="#454545" stroke-width="0.8" stroke-linejoin="round" stroke-linecap="round"/>
<polyline points="781.3,1017.0 792.8,1027.5 820.3,1016.0" fill="none" stroke="#454545" stroke-width="0.9" stroke-linejoin="round" stroke-linecap="round"/>
<ellipse cx="790.7" cy="1017.6" rx="1.6" ry="1.1" fill="none" stroke="#1a1a1a" stroke-width="0.8"/>
<ellipse cx="808" cy="1011.8" rx="1.6" ry="1.1" fill="none" stroke="#1a1a1a" stroke-width="0.8"/>
<polygon points="789.8,1026.0 791.6,1026.0 791.6,1050.0 789.8,1050.0" fill="#bbb" stroke="#454545" stroke-width="0.6" stroke-linejoin="round"/>
<ellipse cx="790.7" cy="1050.5" rx="1.8" ry="1" fill="#fff" stroke="#1a1a1a" stroke-width="0.7"/>
<polygon points="809.3,1021.0 811.1,1021.0 811.1,1046.0 809.3,1046.0" fill="#bbb" stroke="#454545" stroke-width="0.6" stroke-linejoin="round"/>
<ellipse cx="810.2" cy="1046.5" rx="1.8" ry="1" fill="#fff" stroke="#1a1a1a" stroke-width="0.7"/></g>
</svg></body></html>
